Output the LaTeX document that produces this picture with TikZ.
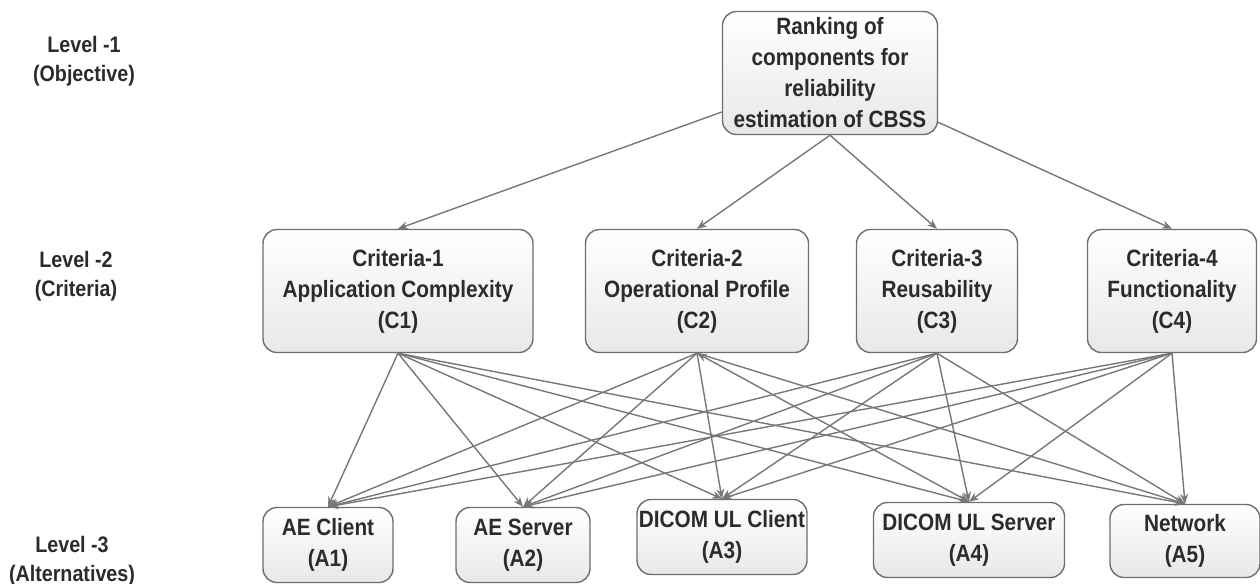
\documentclass[tikz,border=0pt]{standalone}
\usepackage{fontspec}
\setmainfont{Liberation Sans}[FakeStretch=0.88]
\usetikzlibrary{arrows.meta}
\definecolor{edgegray}{HTML}{777777}
\definecolor{boxline}{HTML}{6E6E6E}
\definecolor{txt}{HTML}{2B2B2B}
\tikzset{
  box/.style={draw=boxline, line width=0.7pt, rounded corners=7pt,
    top color=white, bottom color=black!9, align=center, inner sep=0pt,
    text=txt, font=\bfseries\fontsize{11.8}{15.5}\selectfont},
  lvl/.style={align=center, text=txt, inner sep=0pt,
    font=\bfseries\fontsize{11.2}{14.5}\selectfont},
  link/.style={draw=edgegray, line width=0.7pt, -{Stealth[length=5pt,width=4pt]}},
}
\begin{document}
\begin{tikzpicture}[x=0.5pt, y=-0.5pt]
\useasboundingbox (0,0) rectangle (1260,584);

% level captions
\node[lvl] (l1) at (84,61) {Level -1\\(Objective)};
\node[lvl] (l2) at (76,276) {Level -2\\(Criteria)};
\node[lvl] (l3) at (72,561) {Level -3\\(Alternatives)};

% objective
\node[box, minimum width=107.5pt, minimum height=61.5pt] (goal) at (830,73)
  {Ranking of\\components for\\reliability\\estimation of CBSS};

% criteria
\node[box, minimum width=135pt, minimum height=61.5pt] (c1) at (398,291)
  {Criteria-1\\Application Complexity\\(C1)};
\node[box, minimum width=111.5pt, minimum height=61.5pt] (c2) at (697,291)
  {Criteria-2\\Operational Profile\\(C2)};
\node[box, minimum width=80.5pt, minimum height=61.5pt] (c3) at (937,291)
  {Criteria-3\\Reusability\\(C3)};
\node[box, minimum width=84.5pt, minimum height=61.5pt] (c4) at (1172,291)
  {Criteria-4\\Functionality\\(C4)};

% alternatives
\node[box, minimum width=65pt, minimum height=37.5pt] (a1) at (328,545)
  {AE Client\\(A1)};
\node[box, minimum width=67pt, minimum height=37.5pt] (a2) at (523,545)
  {AE Server\\(A2)};
\node[box, minimum width=85pt, minimum height=37.5pt] (a3) at (722,537)
  {DICOM UL Client\\(A3)};
\node[box, minimum width=95.5pt, minimum height=37.5pt] (a4) at (969,540)
  {DICOM UL Server\\(A4)};
\node[box, minimum width=75pt, minimum height=36.5pt] (a5) at (1185,541)
  {Network\\(A5)};

% objective to criteria
\draw[link] (goal) -- (c1.north);
\draw[link] (goal.south) -- (c2.north);
\draw[link] (goal.south) -- (c3.north);
\draw[link] (goal) -- (c4.north);

% criteria to alternatives
\foreach \c in {c1,c2,c3,c4}{
  \foreach \a in {a1,a2,a3,a5}{
    \draw[link] (\c.south) -- (\a.north);
  }
}
\draw[link] (c1.south) -- (a4.north);
\draw[link, {Stealth[length=5pt,width=4pt]}-{Stealth[length=5pt,width=4pt]}] (c2.south) -- (a4.north);
\draw[link] (c3.south) -- (a4.north);
\draw[link] (c4.south) -- (a4.north);
\end{tikzpicture}
\end{document}
